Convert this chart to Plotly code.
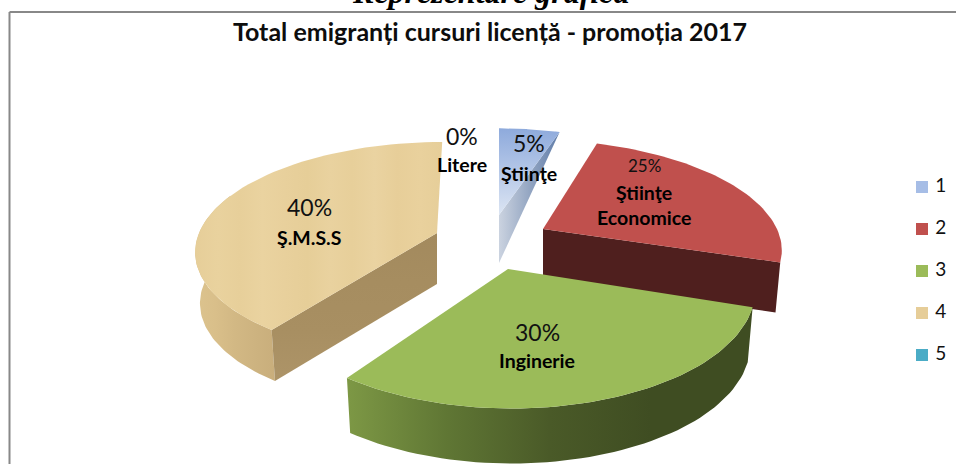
import math
import plotly.graph_objects as go

# ---- data ----
categories = ["1", "2", "3", "4", "5"]
shares = [5, 25, 30, 40, 0]
faculty_names = ["Ştiinţe", "Ştiinţe<br>Economice", "Inginerie", "Ş.M.S.S", "Litere"]
chart_title = "Total emigranți cursuri licență - promoția 2017"
page_heading = "Reprezentare grafică"

# ---- styles / layout constants (projection of the exploded 3D pie) ----
W, H = 956, 464
FONT = "Lato"
K = 0.154             # perspective
GEOM = {              # apex px, py, radius x, radius y, wall thickness, shear
    0: (499, 215, 225, 100, 48, 0),
    1: (543, 229, 234, 103, 50, 11),
    2: (508, 269, 244, 118, 55, 3),
    3: (437, 233, 238, 105, 51, -6),
}
TOP = {0: None, 1: "#C0504D", 2: "#9BBB59", 3: None}
LEGEND_COL = ["#A6BDE6", "#C0504D", "#9BBB59", "#E6CD98", "#4BACC6"]
WOOD = ["#E6CE99", "#E9D29E", "#E7CF9A", "#EAD3A0", "#E8D09C", "#E6CE98", "#E9D29F",
        "#E7CF9A", "#EAD3A1", "#E7CE99", "#E9D19D", "#E6CE99"]

start = []
acc = 0
for s in shares:
    start.append(acc)
    acc += s * 3.6


def rim(i, deg):
    px, py, rx, ry, _, sh = GEOM[i]
    t = math.radians(deg)
    p = 1 / (1 + K * math.cos(t))
    v = -math.cos(t) * p
    return px + rx * math.sin(t) * p + sh * v, py + ry * v


def low(i, pt):
    px, py, _, _, th, _ = GEOM[i]
    return px + (pt[0] - px) * 0.98, pt[1] + th


def arc(i, a, b, n=60):
    return [rim(i, a + (b - a) * j / n) for j in range(n + 1)]


def poly(pts, name, color=None, grad=None):
    xs = [p[0] for p in pts] + [pts[0][0]]
    ys = [p[1] for p in pts] + [pts[0][1]]
    kw = dict(fillgradient=grad) if grad else dict(fillcolor=color)
    return go.Scatter(x=xs, y=ys, mode="lines", fill="toself", line=dict(width=0),
                      hoverinfo="skip", showlegend=False, name=name, **kw)


def grad(kind, stops):
    n = len(stops) - 1
    return dict(type=kind, colorscale=[[j / n, c] for j, c in enumerate(stops)])


traces = []
end = [start[i] + shares[i] * 3.6 for i in range(len(shares))]

# slice 4 (S.M.S.S)
i = 3
A = (GEOM[i][0], GEOM[i][1])
a0 = rim(i, start[i])
outer = arc(i, start[i], 292)
traces.append(poly(outer + [low(i, p) for p in outer[::-1]], categories[i],
                   grad=grad("horizontal", ["#DCC38E", "#D9BF8A", "#D2B884", "#CDB380", "#C9AE7C"])))
traces.append(poly([A, a0, low(i, a0), low(i, A)], categories[i],
                   grad=grad("vertical", ["#AD9468", "#A88F62", "#A68D60", "#A38A5E"])))
traces.append(poly([A] + arc(i, start[i], end[i]), categories[i],
                   grad=grad("horizontal", WOOD)))

# slice 1 (Stiinte)
i = 0
A = (GEOM[i][0], GEOM[i][1])
e = rim(i, end[i])
traces.append(poly([A, e, low(i, A)], categories[i],
                   grad=grad("horizontal", ["#CBD3E0", "#94A6C2", "#5F7CA9"])))
traces.append(poly([A] + arc(i, start[i], end[i]), categories[i],
                   grad=grad("vertical", ["#DCE5F3", "#8EAADC"])))

# slice 2 (Stiinte Economice)
i = 1
A = (GEOM[i][0], GEOM[i][1])
e = rim(i, end[i])
traces.append(poly([A, e, low(i, e), low(i, A)], categories[i], color="#4F1F1E"))
traces.append(poly([A] + arc(i, start[i], end[i]), categories[i], color=TOP[i]))

# slice 3 (Inginerie)
i = 2
A = (GEOM[i][0], GEOM[i][1])
outer = arc(i, start[i], end[i])
traces.append(poly(outer + [low(i, p) for p in outer[::-1]], categories[i],
                   grad=grad("horizontal", ["#7D9845", "#5F7634", "#4A5A28", "#3F4D22", "#3F4D22"])))
traces.append(poly([A] + outer, categories[i], color=TOP[i]))

# legend column
for j, c in enumerate(categories):
    traces.append(go.Scatter(
        x=[922], y=[187 + 42 * j], mode="markers+text", text=[" " + c], name=c,
        textposition="middle right",
        textfont=dict(family=FONT, size=19, color="#111111"),
        marker=dict(symbol="square", size=12, color=LEGEND_COL[j], line=dict(width=0)),
        showlegend=False, hoverinfo="skip"))

# ---- labels ----
label_pos = {
    0: (529, 143, 173, 23),
    1: (644, 165, 205, 17),
    2: (537, 332, 360, 23),
    3: (309, 207, 237, 23),
    4: (462, 136, 164, 23),
}
anns = []
for i, n in enumerate(faculty_names):
    x, y1, y2, fs = label_pos[i]
    anns.append(dict(x=x, y=y1, text=f"{shares[i]}%", showarrow=False, xref="x", yref="y",
                     font=dict(family=FONT, size=fs, color="#111111")))
    anns.append(dict(x=x, y=y2, text="<b>" + n + "</b>", showarrow=False, xref="x", yref="y",
                     align="center", font=dict(family=FONT, size=19.5, color="#000000")))
anns.append(dict(x=490, y=7, text="<b><i>" + page_heading + "</i></b>", showarrow=False,
                 xref="x", yref="y", yanchor="bottom", yshift=-5,
                 font=dict(family="Liberation Serif", size=32, color="#000000")))
anns.append(dict(x=490, y=31, text="<b>" + chart_title + "</b>", showarrow=False,
                 xref="x", yref="y",
                 font=dict(family=FONT, size=25, color="#0D0D0D")))

fig = go.Figure(traces)
fig.update_layout(
    width=W, height=H, margin=dict(l=0, r=0, t=0, b=0),
    paper_bgcolor="white", plot_bgcolor="white", showlegend=False,
    xaxis=dict(range=[0, W], visible=False, fixedrange=True),
    yaxis=dict(range=[H, 0], visible=False, fixedrange=True),
    annotations=anns,
    shapes=[
        dict(type="line", x0=9.5, x1=W, y0=12, y1=12, xref="x", yref="y",
             line=dict(color="#888888", width=2), layer="below"),
        dict(type="line", x0=9.5, x1=9.5, y0=12, y1=H, xref="x", yref="y",
             line=dict(color="#888888", width=2), layer="below"),
    ],
)
fig.write_html("out.html", config=dict(displayModeBar=False),
               post_script="document.body.style.margin='0';")
